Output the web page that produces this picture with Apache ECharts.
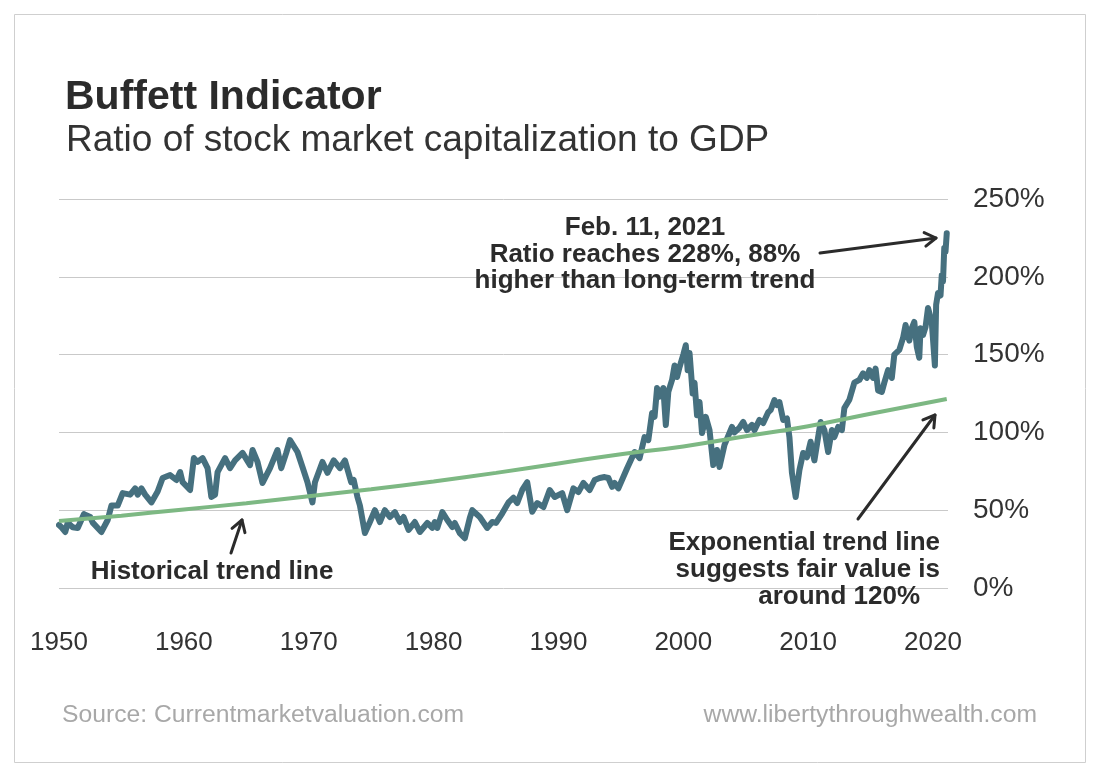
<!DOCTYPE html>
<html>
<head>
<meta charset="utf-8">
<script src="https://cdn.jsdelivr.net/npm/echarts@6/dist/echarts.min.js"></script>
<style>
  html, body { margin: 0; padding: 0; background: #fff; }
  #chart { width: 1100px; height: 777px; }
</style>
</head>
<body>
<div id="chart"></div>
<script>
// ratio of market cap to GDP (year, %)
const years = [
  1950.0, 1950.2, 1950.5, 1950.7, 1951.1, 1951.5, 1952.0, 1952.5, 1952.7, 1953.4,
  1953.9, 1954.2, 1954.7, 1955.1, 1955.7, 1956.1, 1956.3, 1956.6, 1956.9, 1957.4,
  1957.9, 1958.3, 1958.9, 1959.4, 1959.7, 1959.9, 1960.5, 1960.8, 1961.1, 1961.5,
  1961.9, 1962.2, 1962.5, 1962.7, 1963.3, 1963.7, 1964.1, 1964.7, 1965.3, 1965.5,
  1965.9, 1966.3, 1966.9, 1967.5, 1967.8, 1968.2, 1968.5, 1969.1, 1969.5, 1969.9,
  1970.3, 1970.5, 1971.1, 1971.5, 1972.0, 1972.5, 1972.9, 1973.4, 1973.6, 1973.9,
  1974.1, 1974.5, 1974.9, 1975.3, 1975.7, 1976.1, 1976.5, 1976.9, 1977.3, 1977.6,
  1978.0, 1978.5, 1978.9, 1979.5, 1979.9, 1980.1, 1980.3, 1980.7, 1981.1, 1981.5,
  1981.7, 1982.1, 1982.5, 1982.9, 1983.1, 1983.7, 1984.3, 1984.7, 1985.0, 1985.5,
  1986.0, 1986.4, 1986.7, 1987.1, 1987.5, 1987.9, 1988.3, 1988.8, 1989.3, 1989.7,
  1990.3, 1990.7, 1991.2, 1991.6, 1992.0, 1992.5, 1992.9, 1993.3, 1993.7, 1994.0,
  1994.3, 1994.5, 1994.8, 1995.5, 1996.1, 1996.5, 1996.9, 1997.2, 1997.5, 1997.7,
  1997.9, 1998.1, 1998.4, 1998.6, 1998.8, 1999.1, 1999.3, 1999.5, 1999.7, 2000.0,
  2000.2, 2000.35, 2000.5, 2000.75, 2000.9, 2001.1, 2001.3, 2001.5, 2001.8, 2002.1,
  2002.4, 2002.7, 2002.9, 2003.3, 2003.9, 2004.1, 2004.5, 2004.8, 2005.1, 2005.5,
  2005.7, 2006.1, 2006.4, 2006.8, 2007.0, 2007.3, 2007.5, 2007.7, 2008.0, 2008.3,
  2008.5, 2008.7, 2009.0, 2009.3, 2009.6, 2009.9, 2010.2, 2010.5, 2010.8, 2011.0,
  2011.3, 2011.6, 2011.9, 2012.1, 2012.4, 2012.7, 2012.9, 2013.3, 2013.7, 2014.1,
  2014.4, 2014.7, 2014.9, 2015.2, 2015.4, 2015.6, 2015.9, 2016.1, 2016.4, 2016.7,
  2016.9, 2017.3, 2017.6, 2017.8, 2018.1, 2018.3, 2018.5, 2018.7, 2018.9, 2019.0,
  2019.2, 2019.4, 2019.6, 2019.9, 2020.15, 2020.25, 2020.4, 2020.6, 2020.7, 2020.8,
  2020.9, 2021.0, 2021.1
];
const ratio = [
  40.5, 39, 36, 42, 39, 38.5, 47.5, 45.6, 42, 36,
  43.7, 53, 53, 61, 60, 64, 60, 64, 60, 55,
  62, 70.7, 72.6, 69.4, 74.5, 68, 63, 83.5, 81, 83.5,
  77, 58.5, 60, 74.5, 83.5, 77, 82, 86.8, 79, 88.7,
  81, 67.5, 77, 88.7, 77, 86.8, 95, 87.4, 77.8, 68,
  55, 68, 81, 74, 82, 77, 82, 68, 69.4, 58.5,
  53, 35.3, 42.4, 50, 42.4, 50, 45.6, 48.8, 42.4, 45.6,
  37.3, 42.4, 36, 41.8, 38.6, 42.4, 38.6, 48.8, 43.7, 39.2,
  41.8, 35.3, 32, 45, 50, 45.6, 38.6, 42.4, 41.8, 48,
  55, 58, 54.6, 63, 68, 49, 54.6, 52, 63, 58.5,
  61, 50, 64, 61.7, 67.5, 63, 69.4, 70.7, 71.3, 70.7,
  65, 67.5, 64, 77, 87.4, 83.5, 97, 95, 112.5, 110,
  128.5, 123, 128.5, 104.8, 126, 133.7, 143, 135.6, 142, 150,
  156, 140, 151, 125, 132, 111, 119.5, 99.6, 110, 101.5,
  79, 88.7, 77.8, 92, 103.5, 100, 103, 106.7, 101.5, 104.8,
  101.5, 108, 106, 113, 114.4, 120.8, 117.6, 119.5, 108, 109,
  97, 74, 58.5, 75.8, 86.8, 84, 94, 82, 97, 106.7,
  101.5, 87.4, 101.5, 97, 103.5, 101.5, 115.7, 121, 132, 133.7,
  138, 135, 140, 135, 141, 127, 126, 132, 140, 135,
  150, 153, 160.7, 169, 159, 167, 171, 155, 148, 167,
  162.6, 167.7, 180, 171, 143, 182, 189.6, 188, 201, 197,
  218.5, 216, 228
];

// long-term trend
const trendYears = [1950, 1955, 1960, 1965, 1970, 1975, 1980, 1985, 1990, 1995, 2000, 2005, 2010, 2015, 2021.1];
const trendValues = [43, 46.5, 50.5, 54.5, 59, 63.5, 68.5, 74, 80, 86, 91, 97.5, 104, 112, 121.5];

const yTicks = [0, 50, 100, 150, 200, 250];

const FONT = "'Liberation Sans', Arial, sans-serif";
const DARK = '#2b2b2b';

function arrow(x1, y1, x2, y2) {
  // straight stroke with an open chevron head
  const a = Math.atan2(y2 - y1, x2 - x1);
  const len = 13, spread = 0.55;
  const p1 = [x2 - len * Math.cos(a - spread), y2 - len * Math.sin(a - spread)];
  const p2 = [x2 - len * Math.cos(a + spread), y2 - len * Math.sin(a + spread)];
  const st = { stroke: DARK, lineWidth: 3, lineCap: 'round', lineJoin: 'round', fill: null };
  return [
    { type: 'line', shape: { x1: x1, y1: y1, x2: x2, y2: y2 }, style: st, z: 10 },
    { type: 'polyline', shape: { points: [p1, [x2, y2], p2] }, style: st, z: 10 }
  ];
}

function label(text, x, y, align) {
  return {
    type: 'text', x: x, y: y, z: 10,
    style: { text: text, fill: DARK, font: 'bold 26px ' + FONT, textAlign: align || 'center', textVerticalAlign: 'middle' }
  };
}

const myChart = echarts.init(document.getElementById('chart'));

const option = {
  backgroundColor: '#fff',
  animation: false,
  title: [
    {
      text: 'Buffett Indicator',
      left: 60, top: 72,
      textStyle: { fontFamily: FONT, fontSize: 41, fontWeight: 'bold', color: DARK }
    },
    {
      text: 'Ratio of stock market capitalization to GDP',
      left: 61, top: 117,
      textStyle: { fontFamily: FONT, fontSize: 37, fontWeight: 'normal', color: '#333' }
    }
  ],
  grid: { left: 59, right: 152, top: 199, bottom: 189, containLabel: false },
  xAxis: {
    type: 'value',
    min: 1950,
    max: 2021.2,
    interval: 10,
    axisLine: { show: false },
    axisTick: { show: false },
    splitLine: { show: false },
    axisLabel: {
      margin: 42,
      fontFamily: FONT,
      fontSize: 26,
      color: '#333',
      formatter: v => (v % 10 === 0 ? String(v) : '')
    }
  },
  yAxis: {
    type: 'value',
    position: 'right',
    min: yTicks[0],
    max: yTicks[yTicks.length - 1],
    interval: 50,
    axisLine: { show: false },
    axisTick: { show: false },
    splitLine: { lineStyle: { color: '#c9c9c9', width: 1 } },
    axisLabel: {
      margin: 25,
      fontFamily: FONT,
      fontSize: 28,
      color: '#333',
      padding: [4, 0, 0, 0],
      formatter: '{value}%'
    }
  },
  series: [
    {
      name: 'Ratio',
      type: 'line',
      data: years.map((y, i) => [y, ratio[i]]),
      showSymbol: false,
      lineStyle: { color: '#46707f', width: 6, join: 'round', cap: 'round' },
      z: 2
    },
    {
      name: 'Trend',
      type: 'line',
      smooth: true,
      data: trendYears.map((y, i) => [y, trendValues[i]]),
      showSymbol: false,
      lineStyle: { color: '#7db883', width: 4 },
      z: 3
    }
  ],
  graphic: [
    {
      type: 'rect', z: -1,
      shape: { x: 14.5, y: 14.5, width: 1071, height: 748 },
      style: { fill: null, stroke: '#cfcfcf', lineWidth: 1 }
    },
    label('Feb. 11, 2021', 645, 228),
    label('Ratio reaches 228%, 88%', 645, 255),
    label('higher than long-term trend', 645, 281),
    ...arrow(820, 253, 936, 238),
    label('Historical trend line', 212, 572),
    ...arrow(231, 553, 242, 520),
    label('Exponential trend line', 940, 543, 'right'),
    label('suggests fair value is', 940, 570, 'right'),
    label('around 120%', 920, 597, 'right'),
    ...arrow(858, 519, 935, 415),
    {
      type: 'text', x: 62, y: 715, z: 10,
      style: { text: 'Source: Currentmarketvaluation.com', fill: '#a8a8a8', font: '24.7px ' + FONT, textVerticalAlign: 'middle' }
    },
    {
      type: 'text', x: 1037, y: 715, z: 10,
      style: { text: 'www.libertythroughwealth.com', fill: '#a8a8a8', font: '24.7px ' + FONT, textAlign: 'right', textVerticalAlign: 'middle' }
    }
  ]
};

myChart.setOption(option);
window.onresize = myChart.resize;
</script>
</body>
</html>
